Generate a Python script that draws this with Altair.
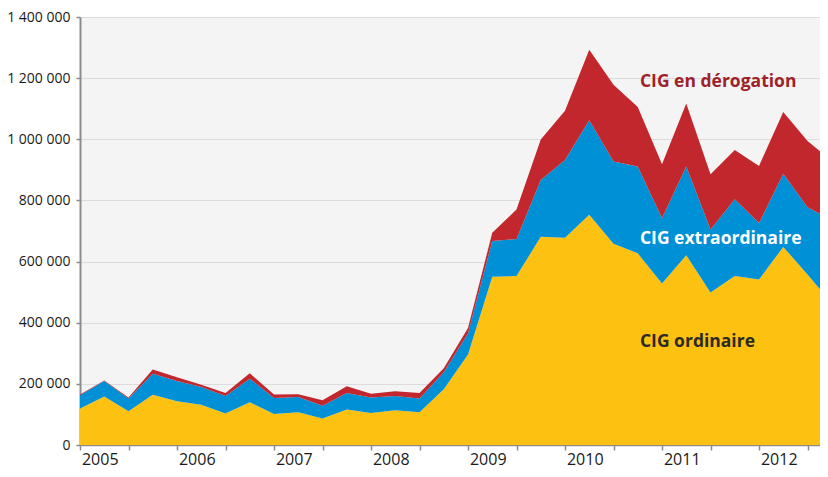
import altair as alt
import pandas as pd

# Quarterly index: 0 = 2005 T1 ... 31 = 2012 T4
quarters = list(range(32))
series = ["CIG ordinaire", "CIG extraordinaire", "CIG en dérogation"]
ordinaire = [119000, 159000, 110000, 164000, 143000, 132000, 103000, 140000,
             101000, 107000, 87000, 116000, 105000, 114000, 107000, 182000,
             296000, 550000, 553000, 681000, 678000, 753000, 658000, 627000,
             528000, 621000, 499000, 553000, 541000, 648000, 558000, 463000]
extraordinaire = [44000, 50000, 42000, 69000, 66000, 58000, 57000, 77000,
                  53000, 50000, 41000, 54000, 50000, 46000, 45000, 56000,
                  69000, 117000, 121000, 186000, 254000, 309000, 269000, 284000,
                  214000, 290000, 206000, 251000, 185000, 239000, 220000, 271000]
derogation = [2000, 2000, 3000, 14000, 13000, 7000, 10000, 18000,
              11000, 9000, 18000, 22000, 13000, 16000, 18000, 13000,
              18000, 27000, 96000, 132000, 161000, 231000, 251000, 195000,
              176000, 206000, 181000, 161000, 187000, 202000, 216000, 196000]
years = ["2005", "2006", "2007", "2008", "2009", "2010", "2011", "2012"]
year_pos = [1, 5, 9, 13, 17, 21, 25, 29]
y_ticks = [0, 200000, 400000, 600000, 800000, 1000000, 1200000, 1400000]
colors = ["#FDC211", "#0090D5", "#C1272D"]

rows = []
for k, (name, vals) in enumerate(zip(series, [ordinaire, extraordinaire, derogation])):
    for q, v in zip(quarters, vals):
        rows.append({"q": q, "v": v, "serie": name, "ord": k})
df = pd.DataFrame(rows)

FONT = "Open Sans"

x_scale = alt.Scale(domain=[0, 30.515], nice=False, zero=False)
y_scale = alt.Scale(domain=[0, 1400000], nice=False)

area = alt.Chart(df).mark_area(clip=True, interpolate="linear").encode(
    x=alt.X("q:Q", scale=x_scale,
            axis=alt.Axis(values=list(range(0, 31, 2)), labels=False, grid=False,
                          ticks=True, tickSize=5, tickWidth=1.5, tickColor="#8c8c8c",
                          domainColor="#8c8c8c", domainWidth=1.5, title=None)),
    y=alt.Y("v:Q", stack="zero", scale=y_scale,
            axis=alt.Axis(values=y_ticks, grid=True, gridColor="#dcdcdc", gridWidth=1,
                          tickSize=4, tickWidth=1.5, tickColor="#8c8c8c",
                          domainColor="#8c8c8c", domainWidth=2,
                          labelFont=FONT, labelFontSize=14, labelColor="#1a1a1a",
                          labelPadding=6, title=None,
                          labelExpr="replace(replace(format(datum.value, ',d'), ',', ' '), ',', ' ')")),
    color=alt.Color("serie:N", scale=alt.Scale(domain=series, range=colors), legend=None),
    order=alt.Order("ord:Q", sort="ascending"),
)

ydf = pd.DataFrame({"q": year_pos, "year": years})
year_text = alt.Chart(ydf).mark_text(
    font=FONT, fontSize=16, color="#1a1a1a", baseline="middle", align="center", dx=-4
).encode(x=alt.X("q:Q", scale=x_scale), y=alt.value(443), text="year:N")

def label(txt, xq, yv, color):
    return alt.Chart(pd.DataFrame({"t": [txt]})).mark_text(
        font=FONT, fontSize=17.5, fontWeight="bold", color=color,
        align="left", baseline="alphabetic"
    ).encode(x=alt.datum(xq, scale=x_scale), y=alt.datum(yv, scale=y_scale), text="t:N")

labels = (
    label("CIG en dérogation", 23.09, 1170000, "#9E2229")
    + label("CIG extraordinaire", 23.09, 658000, "#FFFFFF")
    + label("CIG ordinaire", 23.09, 320000, "#2B2A29")
)

chart = alt.layer(area, year_text, labels).properties(
    width=740, height=428,
    autosize=alt.AutoSizeParams(type="none"),
    padding={"left": 72, "top": 9, "right": 0, "bottom": 24},
    background="#ffffff",
).configure_view(stroke=None, fill="#f4f4f4")

chart.save("out.html", embed_options={"renderer": "svg", "actions": False})
